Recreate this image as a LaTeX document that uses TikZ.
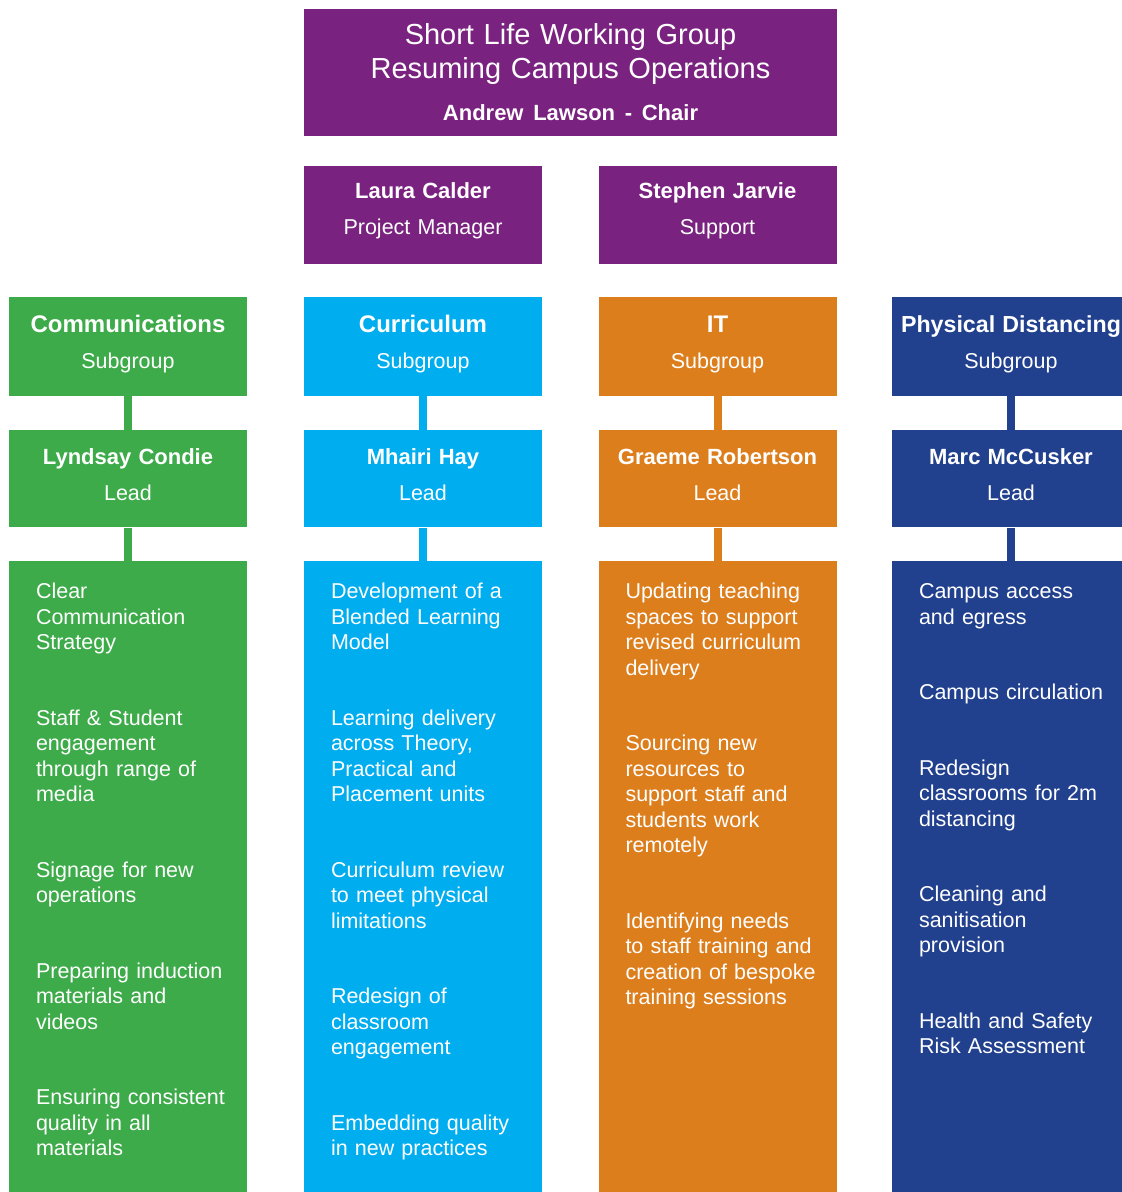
\documentclass[tikz,border=0pt]{standalone}
\usepackage{fontspec}
\setmainfont{Liberation Sans}
\usepackage{xcolor}
\usetikzlibrary{positioning}

\definecolor{chairpurple}{RGB}{122,34,128}
\definecolor{commsgreen}{RGB}{61,171,73}
\definecolor{currblue}{RGB}{0,173,238}
\definecolor{itorange}{RGB}{221,126,29}
\definecolor{distnavy}{RGB}{33,64,141}

\begin{document}
\begin{tikzpicture}[x=1pt,y=-1pt]
	\tikzstyle{panel}=[rectangle,inner sep=0pt,minimum width=238pt]
	\tikzstyle{head}=[panel,minimum height=99pt]
	\tikzstyle{lead}=[panel,minimum height=97pt]
	\tikzstyle{list}=[panel,minimum height=640pt]
	\tikzstyle{caption}=[text=white,inner sep=0pt,text width=238pt,align=center,anchor=base,font=\fontsize{21.5}{36}\selectfont]
	\tikzstyle{items}=[text=white,inner sep=0pt,text width=210pt,align=left,anchor=base west,font=\fontsize{21.5}{25.5}\selectfont]
	\tikzstyle{stem}=[line width=8pt]
	\useasboundingbox (0,0) rectangle (1122,1192);
	\clip (0,0) rectangle (1122,1192);

	% chair and support
	\node[panel,fill=chairpurple,minimum width=533pt,minimum height=127pt](chair) at (570.5,72.5){};
	\node[caption,text width=533pt,font=\fontsize{29}{34}\selectfont](chairtext) at ([yshift=-36pt]chair.north){Short Life Working Group\\Resuming Campus Operations\\[8pt]{\fontsize{22}{34}\selectfont\bfseries Andrew Lawson - Chair}};
	\node[panel,fill=chairpurple,minimum height=98pt](manager) at (423,215){};
	\node[caption](managertext) at ([yshift=-33pt]manager.north){{\fontsize{22}{36}\selectfont\bfseries Laura Calder}\\Project Manager};
	\node[panel,fill=chairpurple,minimum height=98pt](support) at (717.5,215){};
	\node[caption](supporttext) at ([yshift=-33pt]support.north){{\fontsize{22}{36}\selectfont\bfseries Stephen Jarvie}\\Support};

	% subgroups
	\node[head,fill=commsgreen](comms) at (128,346.5){};
	\node[head,fill=currblue](curr) at (423,346.5){};
	\node[head,fill=itorange](it) at (717.5,346.5){};
	\node[head,fill=distnavy](dist) at (1011,346.5){};
	\node[caption](commstext) at ([yshift=-35.5pt]comms.north){{\fontsize{24}{36}\selectfont\bfseries Communications}\\Subgroup};
	\node[caption](currtext) at ([yshift=-35.5pt]curr.north){{\fontsize{24}{36}\selectfont\bfseries Curriculum}\\Subgroup};
	\node[caption](ittext) at ([yshift=-35.5pt]it.north){{\fontsize{24}{36}\selectfont\bfseries IT}\\Subgroup};
	\node[caption](disttext) at ([yshift=-35.5pt]dist.north){{\fontsize{23.2}{36}\selectfont\bfseries Physical Distancing}\\Subgroup};

	% leads
	\node[lead,fill=commsgreen,below=34pt of comms](commslead){};
	\node[lead,fill=currblue,below=34pt of curr](currlead){};
	\node[lead,fill=itorange,below=34pt of it](itlead){};
	\node[lead,fill=distnavy,below=34pt of dist](distlead){};
	\node[caption](commsleadtext) at ([yshift=-34pt]commslead.north){{\fontsize{22}{35}\selectfont\bfseries Lyndsay Condie}\\Lead};
	\node[caption](currleadtext) at ([yshift=-34pt]currlead.north){{\fontsize{22}{35}\selectfont\bfseries Mhairi Hay}\\Lead};
	\node[caption](itleadtext) at ([yshift=-34pt]itlead.north){{\fontsize{22}{35}\selectfont\bfseries Graeme Robertson}\\Lead};
	\node[caption](distleadtext) at ([yshift=-34pt]distlead.north){{\fontsize{22}{35}\selectfont\bfseries Marc McCusker}\\Lead};

	% task lists
	\node[list,fill=commsgreen,below=33pt of commslead](commslist){};
	\node[list,fill=currblue,below=33pt of currlead](currlist){};
	\node[list,fill=itorange,below=33pt of itlead](itlist){};
	\node[list,fill=distnavy,below=33pt of distlead](distlist){};

	\path[stem]
		(comms) edge[commsgreen] (commslead)
		(commslead) edge[commsgreen] (commslist)
		(curr) edge[currblue] (currlead)
		(currlead) edge[currblue] (currlist)
		(it) edge[itorange] (itlead)
		(itlead) edge[itorange] (itlist)
		(dist) edge[distnavy] (distlead)
		(distlead) edge[distnavy] (distlist);

	\node[items](commsitems) at ([shift={(27pt,-38pt)}]commslist.north west){Clear\\Communication\\Strategy\\[50pt]Staff \& Student\\engagement\\through range of\\media\\[50pt]Signage for new\\operations\\[50pt]Preparing induction\\materials and\\videos\\[50pt]Ensuring consistent\\quality in all\\materials};
	\node[items](curritems) at ([shift={(27pt,-38pt)}]currlist.north west){Development of a\\Blended Learning\\Model\\[50pt]Learning delivery\\across Theory,\\Practical and\\Placement units\\[50pt]Curriculum review\\to meet physical\\limitations\\[50pt]Redesign of\\classroom\\engagement\\[50pt]Embedding quality\\in new practices};
	\node[items](ititems) at ([shift={(27pt,-38pt)}]itlist.north west){Updating teaching\\spaces to support\\revised curriculum\\delivery\\[50pt]Sourcing new\\resources to\\support staff and\\students work\\remotely\\[50pt]Identifying needs\\to staff training and\\creation of bespoke\\training sessions};
	\node[items](distitems) at ([shift={(27pt,-38pt)}]distlist.north west){Campus access\\and egress\\[50pt]Campus circulation\\[50pt]Redesign\\classrooms for 2m\\distancing\\[50pt]Cleaning and\\sanitisation\\provision\\[50pt]Health and Safety\\Risk Assessment};
\end{tikzpicture}
\end{document}
